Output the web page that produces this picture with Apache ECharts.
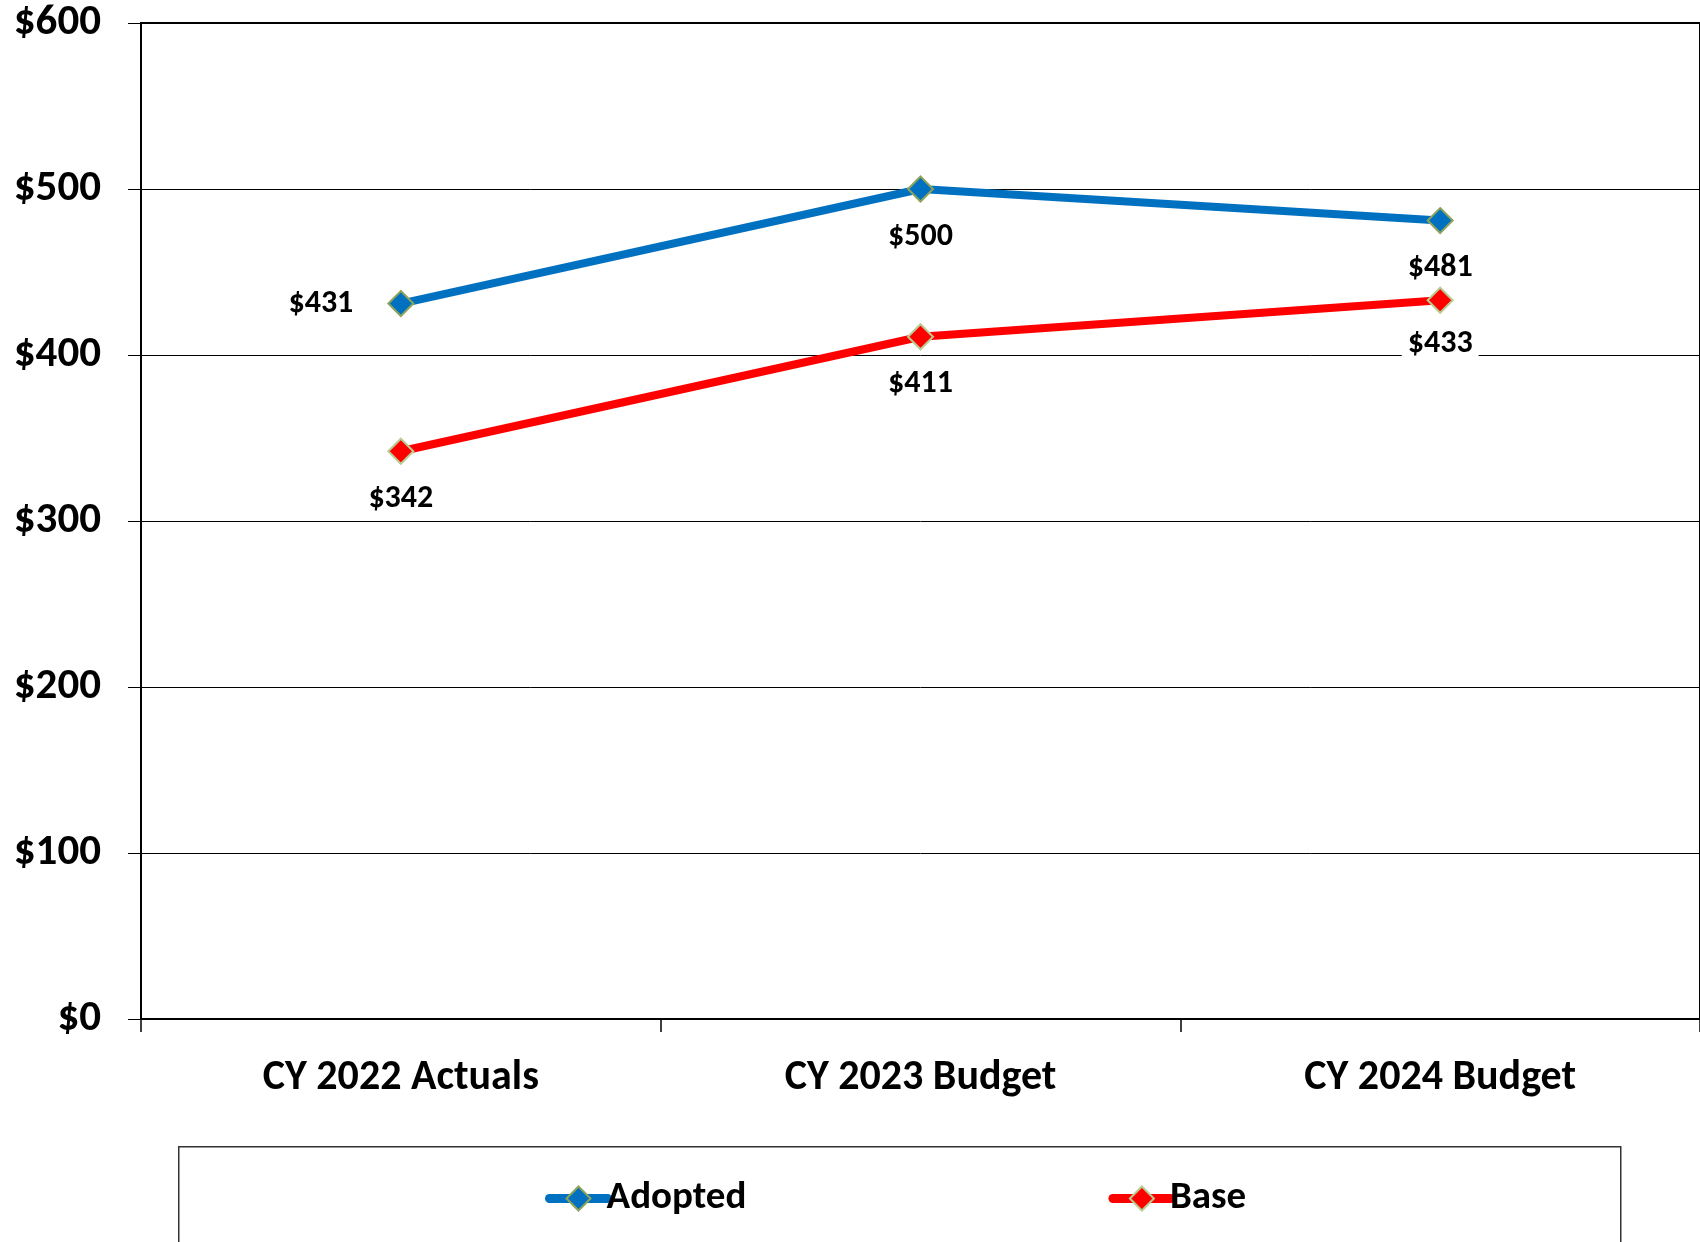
<!DOCTYPE html>
<html>
<head>
<meta charset="utf-8">
<script src="https://cdn.jsdelivr.net/npm/echarts@6/dist/echarts.min.js"></script>
<style>html,body{margin:0;padding:0;background:#fff}#c{width:1700px;height:1242px}</style>
</head>
<body>
<div id="c"></div>
<script>
const categories = ['CY 2022 Actuals', 'CY 2023 Budget', 'CY 2024 Budget'];
const adopted = [431, 500, 481];
const base = [342, 411, 433];
const yTicks = [0, 100, 200, 300, 400, 500, 600];

const FONT = 'Carlito, Lato, sans-serif';
const labelBase = {
  show: true, position: 'bottom', distance: 18,
  formatter: p => '$' + p.value,
  fontFamily: FONT, fontWeight: 'bold', fontSize: 32, color: '#000',
  backgroundColor: '#fff', padding: [0, 6]
};

const chart = echarts.init(document.getElementById('c'), null, {renderer: 'canvas'});
chart.setOption({
  animation: false,
  backgroundColor: '#fff',
  grid: {left: 141, top: 23, right: -2, bottom: 223, show: true, borderColor: '#000', borderWidth: 2, backgroundColor: 'transparent'},
  xAxis: {
    type: 'category', data: categories, boundaryGap: true,
    axisLine: {lineStyle: {color: '#000', width: 2}},
    axisTick: {show: true, length: 13, lineStyle: {color: '#000', width: 1.5}},
    axisLabel: {fontFamily: FONT, fontWeight: 'bold', fontSize: 42, color: '#000', margin: 38}
  },
  yAxis: {
    type: 'value', min: yTicks[0], max: yTicks[yTicks.length - 1], interval: 100,
    axisLine: {show: true, lineStyle: {color: '#000', width: 2}},
    axisTick: {show: true, length: 13, lineStyle: {color: '#000', width: 1}},
    axisLabel: {fontFamily: FONT, fontWeight: 'bold', fontSize: 43, color: '#000', margin: 40, formatter: v => '$' + v},
    splitLine: {show: true, lineStyle: {color: '#000', width: 1}}
  },
  legend: {
    left: 545, top: 1179, padding: 0, itemWidth: 58, itemHeight: 30, itemGap: 362,
    lineStyle: {width: 9, cap: 'round'},
    textStyle: {fontFamily: FONT, fontWeight: 'bold', fontSize: 39, color: '#000', padding: [0, 0, 0, -6]},
    data: ['Adopted', 'Base']
  },
  graphic: [{
    type: 'rect', left: 178, top: 1146, z: -1,
    shape: {width: 1442, height: 120},
    style: {fill: '#fff', stroke: '#333', lineWidth: 1.5}
  }],
  series: [
    {
      name: 'Adopted', type: 'line', data: adopted.map((v, i) => i === 0 ? {value: v, label: {position: 'left', distance: 28}} : v),
      symbol: 'diamond', symbolSize: [25, 25],
      lineStyle: {color: '#0070C0', width: 8},
      itemStyle: {color: '#0070C0', borderColor: '#8DA35A', borderWidth: 2},
      label: labelBase, z: 3
    },
    {
      name: 'Base', type: 'line', data: base.map((v, i) => i === 2 ? {value: v, label: {distance: 14}} : v),
      symbol: 'diamond', symbolSize: [25, 25],
      lineStyle: {color: '#FF0000', width: 8},
      itemStyle: {color: '#FF0000', borderColor: '#B7CC90', borderWidth: 2},
      label: labelBase, z: 3
    }
  ]
});
</script>
</body>
</html>
